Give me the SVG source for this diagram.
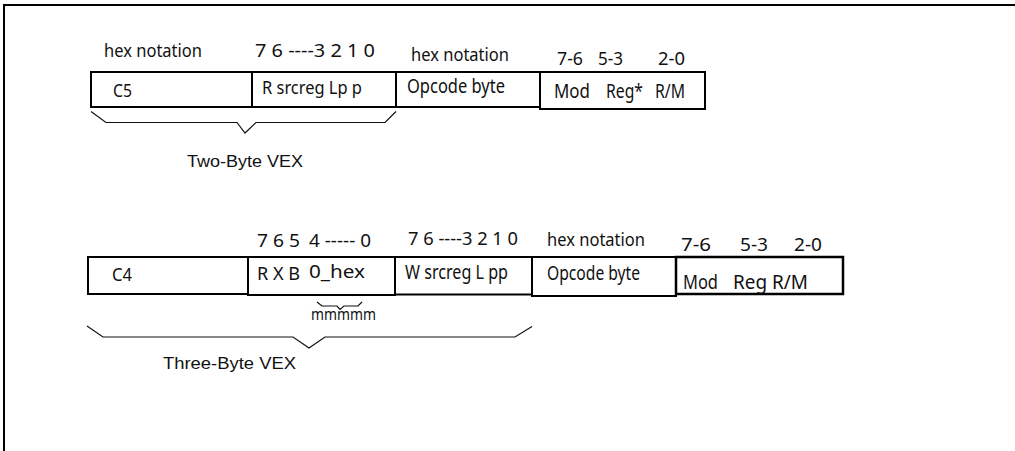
<svg xmlns="http://www.w3.org/2000/svg" width="1015" height="451" viewBox="0 0 1015 451">
<style>
.box{fill:#fff;stroke:#000;stroke-width:2}
.t{font-family:"Noto Sans","DejaVu Sans",sans-serif;fill:#111;font-size:18px}
.tb{font-family:"Noto Sans","DejaVu Sans",sans-serif;fill:#111;font-size:19px}
.a{font-family:"Liberation Sans",Arial,sans-serif;fill:#111;font-size:16.5px}
.br{fill:none;stroke:#111;stroke-width:1.2}
.frame{fill:none;stroke:#000;stroke-width:2}
</style>
<rect width="1015" height="451" fill="#fff"/>
<path class="frame" d="M4,451 V5 H1015"/>

<g id="two-byte">
  <text class="t" x="104" y="57" textLength="98" lengthAdjust="spacingAndGlyphs">hex notation</text>
  <text class="t" x="255" y="57" textLength="120" lengthAdjust="spacingAndGlyphs">7 6 ----3 2 1 0</text>
  <text class="t" x="411" y="60.5" textLength="98" lengthAdjust="spacingAndGlyphs">hex notation</text>
  <text class="t" x="557" y="65" textLength="26" lengthAdjust="spacingAndGlyphs">7-6</text>
  <text class="t" x="598" y="65" textLength="25" lengthAdjust="spacingAndGlyphs">5-3</text>
  <text class="t" x="658" y="65" textLength="27" lengthAdjust="spacingAndGlyphs">2-0</text>
  <g id="c5">
    <rect class="box" x="91" y="72" width="161" height="35"/>
    <text class="t" x="113" y="97" textLength="19" lengthAdjust="spacingAndGlyphs">C5</text>
  </g>
  <g id="r-srcreg">
    <rect class="box" x="252" y="72" width="144" height="35"/>
    <text class="t" x="262" y="94" textLength="100" lengthAdjust="spacingAndGlyphs">R srcreg Lp p</text>
  </g>
  <g id="opcode1">
    <rect class="box" x="396" y="72" width="144" height="35"/>
    <text class="tb" x="407" y="93" textLength="98" lengthAdjust="spacingAndGlyphs">Opcode byte</text>
  </g>
  <g id="modrm1">
    <rect class="box" x="540" y="72" width="165" height="37"/>
    <text class="tb" x="554" y="98" textLength="36" lengthAdjust="spacingAndGlyphs">Mod</text>
    <text class="tb" x="606" y="98" textLength="37" lengthAdjust="spacingAndGlyphs">Reg*</text>
    <text class="tb" x="655" y="98" textLength="30" lengthAdjust="spacingAndGlyphs">R/M</text>
  </g>
  <text class="a" x="187" y="166.5" textLength="116" lengthAdjust="spacingAndGlyphs">Two-Byte VEX</text>
</g>

<g id="three-byte">
  <text class="t" x="257" y="246.5" textLength="43" lengthAdjust="spacingAndGlyphs">7 6 5</text>
  <text class="t" x="309" y="246.5" textLength="62" lengthAdjust="spacingAndGlyphs">4 ----- 0</text>
  <text class="t" x="408" y="245" textLength="110" lengthAdjust="spacingAndGlyphs">7 6 ----3 2 1 0</text>
  <text class="t" x="547" y="245.5" textLength="98" lengthAdjust="spacingAndGlyphs">hex notation</text>
  <text class="t" x="681" y="251" textLength="30" lengthAdjust="spacingAndGlyphs">7-6</text>
  <text class="t" x="740" y="251" textLength="28" lengthAdjust="spacingAndGlyphs">5-3</text>
  <text class="t" x="794" y="251" textLength="28" lengthAdjust="spacingAndGlyphs">2-0</text>
  <g id="c4">
    <rect class="box" x="88" y="257" width="160" height="37"/>
    <text class="t" x="112" y="281" textLength="20" lengthAdjust="spacingAndGlyphs">C4</text>
  </g>
  <g id="rxb">
    <rect class="box" x="248" y="257" width="147" height="38"/>
    <text class="t" x="257" y="280" textLength="43" lengthAdjust="spacingAndGlyphs">R X B</text>
    <text class="t" x="309" y="277.5" textLength="56" lengthAdjust="spacingAndGlyphs">0_hex</text>
  </g>
  <g id="w-srcreg">
    <rect class="box" x="395" y="257" width="137" height="37.5"/>
    <text class="tb" x="405" y="278.5" textLength="103" lengthAdjust="spacingAndGlyphs">W srcreg L pp</text>
  </g>
  <g id="opcode2">
    <rect class="box" x="532" y="257" width="144" height="39"/>
    <text class="tb" x="547" y="279.5" textLength="93" lengthAdjust="spacingAndGlyphs">Opcode byte</text>
  </g>
  <g id="modrm2">
    <rect class="box" x="676" y="257" width="167" height="37" style="stroke-width:2.5"/>
    <text class="tb" x="683" y="289" textLength="35" lengthAdjust="spacingAndGlyphs">Mod</text>
    <text class="tb" x="733" y="289" textLength="75" lengthAdjust="spacingAndGlyphs">Reg R/M</text>
  </g>
  <text class="t" x="311" y="320" textLength="65" lengthAdjust="spacingAndGlyphs" style="font-size:16px">mmmmm</text>
  <text class="a" x="163" y="369" textLength="133" lengthAdjust="spacingAndGlyphs">Three-Byte VEX</text>
</g>

<g id="connectors">
  <path class="br" d="M91,111.5 L106,122.5 H237 L245,133 L256,122.5 H385 L396,111.5"/>
  <path class="br" d="M317,302 L322,306 H337 L340,309.5 L344,306 H358 L362,302"/>
  <path class="br" d="M87,326 L103,337 H293 L309,348 L325,337 H515 L532,326.5"/>
</g>
</svg>
